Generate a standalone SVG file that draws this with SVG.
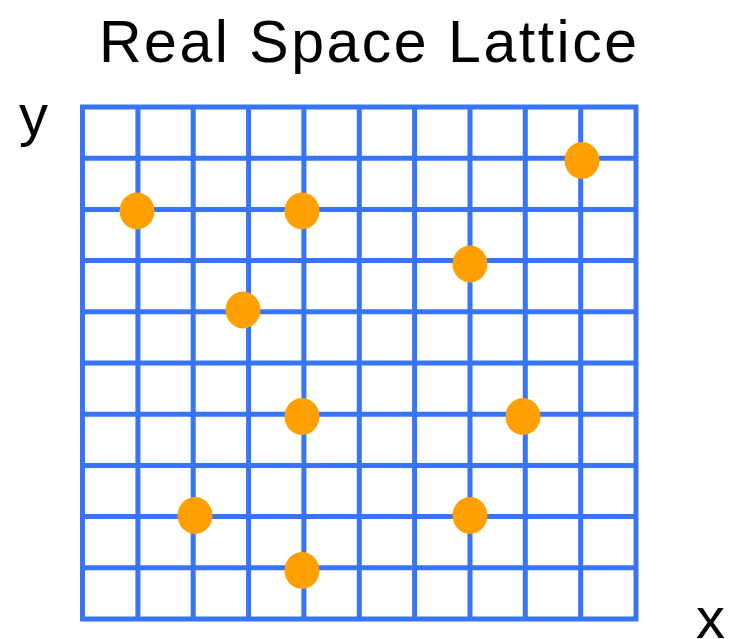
<svg xmlns="http://www.w3.org/2000/svg" width="731" height="639" viewBox="0 0 731 639">
<style>
.grid{stroke:#3874F7;stroke-width:5;fill:none}
.dot{fill:#FFA000}
.lbl{font-family:"Liberation Sans",Arial,Helvetica,sans-serif;fill:#000}
</style>
<rect width="731" height="639" fill="#fff"/>
<text class="lbl" x="99" y="62" font-size="59" textLength="538" lengthAdjust="spacing">Real Space Lattice</text>
<text class="lbl" x="19" y="135" font-size="58">y</text>
<text class="lbl" x="696" y="638" font-size="58">x</text>
<g id="grid" class="grid">
<rect x="82.5" y="107" width="553.5" height="512"/>
<path d="M137.9 107V619M193.2 107V619M248.6 107V619M303.9 107V619M359.3 107V619M414.6 107V619M470 107V619M525.3 107V619M580.7 107V619"/>
<path d="M82.5 158.2H636M82.5 209.4H636M82.5 260.6H636M82.5 311.8H636M82.5 363H636M82.5 414.2H636M82.5 465.4H636M82.5 516.6H636M82.5 567.8H636"/>
</g>
<g id="connectors"></g>
<g id="p1"><ellipse class="dot" cx="137" cy="211" rx="17.5" ry="18.5"/></g>
<g id="p2"><ellipse class="dot" cx="302" cy="211" rx="17.5" ry="18.5"/></g>
<g id="p3"><ellipse class="dot" cx="582" cy="160.5" rx="17.5" ry="18.5"/></g>
<g id="p4"><ellipse class="dot" cx="470" cy="264" rx="17.5" ry="18.5"/></g>
<g id="p5"><ellipse class="dot" cx="243" cy="310" rx="17.5" ry="18.5"/></g>
<g id="p6"><ellipse class="dot" cx="302" cy="416.5" rx="17.5" ry="18.5"/></g>
<g id="p7"><ellipse class="dot" cx="523" cy="416.5" rx="17.5" ry="18.5"/></g>
<g id="p8"><ellipse class="dot" cx="195" cy="515.5" rx="17.5" ry="18.5"/></g>
<g id="p9"><ellipse class="dot" cx="470" cy="515.5" rx="17.5" ry="18.5"/></g>
<g id="p10"><ellipse class="dot" cx="302" cy="570.5" rx="17.5" ry="18.5"/></g>
</svg>
